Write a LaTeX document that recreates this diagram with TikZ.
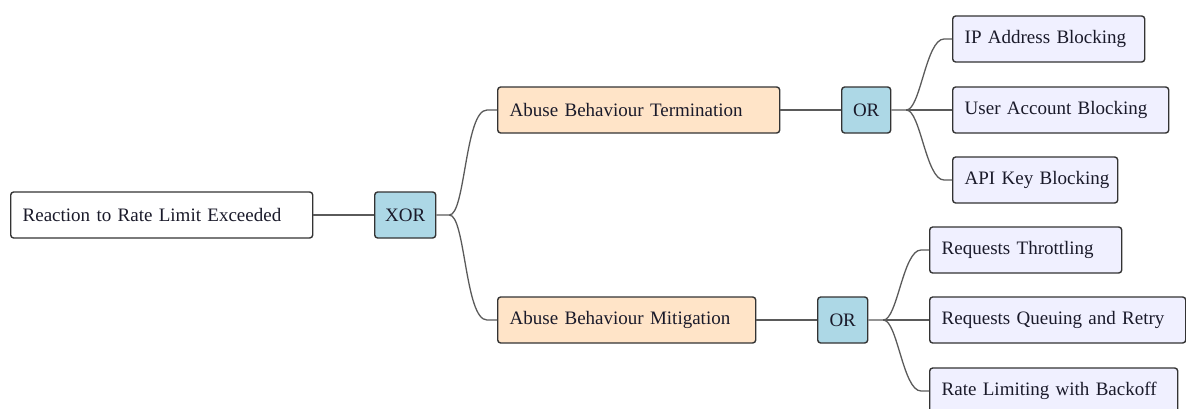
\documentclass[tikz,border=0pt]{standalone}
\usepackage{fontspec}
\setmainfont{Liberation Serif}
\usetikzlibrary{calc}
\definecolor{edgegray}{HTML}{5A5A5A}
\definecolor{boxline}{HTML}{333333}
\definecolor{gatefill}{HTML}{ADD8E6}
\definecolor{branchfill}{HTML}{FFE4C8}
\definecolor{leaffill}{HTML}{F0F0FF}
\definecolor{textdark}{HTML}{1A1A2A}
\begin{document}
\begin{tikzpicture}[x=1pt,y=-1pt,
  box/.style={draw=boxline, line width=1.4pt, rounded corners=3pt,
    minimum height=46pt, inner xsep=12pt, inner ysep=0pt, anchor=west,
    align=left, text=textdark, font=\fontsize{19}{21}\selectfont},
  rootbox/.style={box, fill=white},
  branchbox/.style={box, fill=branchfill},
  leafbox/.style={box, fill=leaffill},
  gate/.style={box, fill=gatefill, inner xsep=0pt, align=center},
  link/.style={draw=edgegray, line width=1.3pt},
]
\useasboundingbox (0,0) rectangle (1186,408);
\clip (0,0) rectangle (1186,408);

% nodes (labels kept on one line)
\node[rootbox, text width=278pt] (root) at (10,215) {\mbox{Reaction to Rate Limit Exceeded}};
\node[gate, minimum width=61pt] (xor) at (374,215) {XOR};
\node[branchbox, text width=258pt] (term) at (497,110) {\mbox{Abuse Behaviour Termination}};
\node[branchbox, text width=234pt] (mit) at (497,320) {\mbox{Abuse Behaviour Mitigation}};
\node[gate, minimum width=49pt] (or1) at (841,110) {OR};
\node[gate, minimum width=50pt] (or2) at (817,320) {OR};
\node[leafbox, text width=168pt] (ip) at (952,39) {\mbox{IP Address Blocking}};
\node[leafbox, text width=192pt] (user) at (952,110) {\mbox{User Account Blocking}};
\node[leafbox, text width=141pt] (api) at (952,180) {\mbox{API Key Blocking}};
\node[leafbox, text width=168pt] (thr) at (929,250) {\mbox{Requests Throttling}};
\node[leafbox, text width=232pt] (queue) at (929,320) {\mbox{Requests Queuing and Retry}};
\node[leafbox, text width=224pt] (back) at (929,391) {\mbox{Rate Limiting with Backoff}};

% fork points
\coordinate (fx) at ($(xor.east)+(13,0)$);
\coordinate (f1) at ($(or1.east)+(15,0)$);
\coordinate (f2) at ($(or2.east)+(15,0)$);

% connectors
\draw[link] (root.east) -- (xor.west);
\draw[link] (term.east) -- (or1.west);
\draw[link] (mit.east) -- (or2.west);

\draw[link] (xor.east) -- (fx) .. controls +(16,0) and +(-22,0) .. ($(term.west)+(-10,0)$) -- (term.west);
\draw[link] (fx) .. controls +(16,0) and +(-22,0) .. ($(mit.west)+(-10,0)$) -- (mit.west);

\draw[link] (or1.east) -- (f1) .. controls +(14,0) and +(-18,0) .. ($(ip.west)+(-8,0)$) -- (ip.west);
\draw[link] (f1) -- (user.west);
\draw[link] (f1) .. controls +(14,0) and +(-18,0) .. ($(api.west)+(-8,0)$) -- (api.west);

\draw[link] (or2.east) -- (f2) .. controls +(14,0) and +(-18,0) .. ($(thr.west)+(-8,0)$) -- (thr.west);
\draw[link] (f2) -- (queue.west);
\draw[link] (f2) .. controls +(14,0) and +(-18,0) .. ($(back.west)+(-8,0)$) -- (back.west);
\end{tikzpicture}
\end{document}
